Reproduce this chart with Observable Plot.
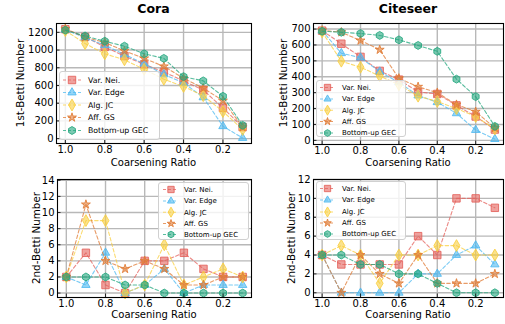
<!DOCTYPE html>
<html>
<head>
<meta charset="utf-8">
<script src="https://cdn.jsdelivr.net/npm/d3@7"></script>
<script src="https://cdn.jsdelivr.net/npm/@observablehq/plot@0.6"></script>
<style>
  html, body { margin: 0; padding: 0; background: #fff; }
  #root { position: relative; width: 505px; height: 324px; overflow: hidden; font-family: "DejaVu Sans", sans-serif; color: #000; }
  .lbl { position: absolute; white-space: nowrap; transform: translate(-50%, -50%); line-height: 1; }
  .ylbl { position: absolute; white-space: nowrap; transform: translate(-50%, -50%) rotate(-90deg); line-height: 1; }
  .title { font-weight: bold; font-size: 12.5px; }
  .legend { position: absolute; background: rgba(255,255,255,0.8); border: 1px solid #d0d0d0; border-radius: 3px; box-sizing: border-box; }
</style>
</head>
<body>
<div id="root"></div>
<script>
// ---------- data ----------
const ratios = [1.0, 0.9, 0.8, 0.7, 0.6, 0.5, 0.4, 0.3, 0.2, 0.1];
const methods = ["Var. Nei.", "Var. Edge", "Alg. JC", "Aff. GS", "Bottom-up GEC"];
const colors = ["#e4625c", "#4fb9f0", "#f9cf3f", "#e07b35", "#23a77e"];
const xTicks = [1.0, 0.8, 0.6, 0.4, 0.2];

// Cora, 1st-Betti number
const coraB1Nei  = [1235, 1148, 1036, 932, 839, 753, 652, 548, 347, 130];
const coraB1Edge = [1230, 1140, 1055, 950, 846, 725, 630, 466, 140, 7];
const coraB1JC   = [1220, 1073, 958, 890, 783, 671, 589, 485, 306, 104];
const coraB1GS   = [1240, 1145, 1085, 991, 906, 816, 682, 570, 429, 130];
const coraB1GEC  = [1225, 1159, 1100, 1044, 958, 906, 700, 652, 478, 150];
const coraB1Ticks = [0, 200, 400, 600, 800, 1000, 1200];

// Citeseer, 1st-Betti number
const citeB1Nei  = [690, 608, 525, 437, 382, 305, 292, 220, 150, 68];
const citeB1Edge = [690, 548, 520, 432, 365, 282, 240, 170, 65, 8];
const citeB1JC   = [682, 498, 460, 405, 350, 278, 245, 200, 150, 72];
const citeB1GS   = [692, 680, 628, 570, 390, 337, 300, 225, 180, 78];
const citeB1GEC  = [686, 680, 672, 660, 632, 597, 560, 385, 275, 88];
const citeB1Ticks = [0, 100, 200, 300, 400, 500, 600, 700];

// Cora, 2nd-Betti number
const coraB2Nei  = [2, 5, 1, 0, 4, 4, 5, 3, 2, 2];
const coraB2Edge = [2, 1, 5, 0, 1, 3, 0, 1, 1, 1];
const coraB2JC   = [2, 9, 9, 0, 1, 6, 1, 2, 3, 2];
const coraB2GS   = [2, 11, 4, 3, 4, 3, 1, 1, 2, 2];
const coraB2GEC  = [2, 2, 2, 1, 1, 0, 0, 0, 0, 0];
const coraB2Ticks = [0, 2, 4, 6, 8, 10, 12, 14];

// Citeseer, 2nd-Betti number
const citeB2Nei  = [4, 3, 3, 3, 3, 6, 4, 10, 10, 9];
const citeB2Edge = [4, 0, 0, 0, 0, 2, 2, 4, 5, 3];
const citeB2JC   = [4, 5, 4, 1, 4, 4, 5, 5, 4, 4];
const citeB2GS   = [4, 0, 4, 2, 1, 4, 1, 1, 1, 2];
const citeB2GEC  = [4, 4, 3, 3, 2, 2, 1, 0, 0, 0];
const citeB2Ticks = [0, 2, 4, 6, 8, 10, 12];

// ---------- symbols ----------
const hexagon = {
  draw(context, size) {
    const R = Math.sqrt(2 * size / (3 * Math.sqrt(3)));
    for (let k = 0; k < 6; k++) {
      const a = -Math.PI / 2 + k * Math.PI / 3;
      const px = R * Math.cos(a), py = R * Math.sin(a);
      if (k === 0) context.moveTo(px, py); else context.lineTo(px, py);
    }
    context.closePath();
  }
};
const symbols = ["square", "triangle", "diamond", "star", hexagon];
const d3Symbols = [d3.symbolSquare, d3.symbolTriangle, d3.symbolDiamond, d3.symbolStar, hexagon];
const radii = [4.2, 3.1, 3.6, 2.8, 3.6];

const root = document.getElementById("root");

function panel({left, top, width, height, mL, mR, mT, mB, series, yDomain, yTicks}) {
  const frameW = width - mL - mR;
  const frameH = height - mT - mB;
  const marks = [
    Plot.ruleX(xTicks, {x: d => d, stroke: "#b8b8b8", strokeWidth: 1.4}),
    Plot.ruleY(yTicks, {y: d => d, stroke: "#b8b8b8", strokeWidth: 1.4}),
  ];
  series.forEach((vals, i) => {
    const rows = vals.map((v, j) => ({x: ratios[j], y: v}));
    marks.push(Plot.line(rows, {x: "x", y: "y", stroke: colors[i], strokeWidth: 1.1,
      strokeOpacity: 0.75, strokeDasharray: "3.5,2.2"}));
    marks.push(Plot.dot(rows, {x: "x", y: "y", symbol: symbols[i], r: radii[i],
      fill: colors[i], fillOpacity: 0.6, stroke: colors[i], strokeOpacity: 0.85, strokeWidth: 1}));
  });
  marks.push(Plot.tickX(xTicks, {x: d => d, stroke: "#000", strokeWidth: 0.8, insetTop: frameH - 3.5}));
  marks.push(Plot.tickY(yTicks, {y: d => d, stroke: "#000", strokeWidth: 0.8, insetRight: frameW - 3.5}));
  marks.push(Plot.frame({stroke: "#000", strokeWidth: 1.1}));

  const chart = Plot.plot({
    width, height,
    marginLeft: mL, marginRight: mR, marginTop: mT, marginBottom: mB,
    style: {fontFamily: "DejaVu Sans", fontSize: "10px", background: "transparent", overflow: "visible", color: "#000"},
    x: {domain: [1.045, 0.055], ticks: xTicks, tickFormat: d3.format(".1f"), tickSize: 0, tickPadding: 2.5, label: null},
    y: {domain: yDomain, ticks: yTicks, tickFormat: d => String(d), tickSize: 0, tickPadding: 3, label: null},
    marks
  });
  chart.style.position = "absolute";
  chart.style.left = left + "px";
  chart.style.top = top + "px";
  root.appendChild(chart);
}

function text(cls, str, x, y, style = {}) {
  const d = document.createElement("div");
  d.className = cls;
  d.textContent = str;
  d.style.left = x + "px";
  d.style.top = y + "px";
  Object.assign(d.style, style);
  root.appendChild(d);
}

function legend({left, top, w, h, fontSize, rowY, lineX0, lineX1, markX, textX, scale}) {
  const div = document.createElement("div");
  div.className = "legend";
  Object.assign(div.style, {left: left + "px", top: top + "px", width: w + "px", height: h + "px"});
  const svg = d3.create("svg").attr("width", w).attr("height", h)
    .style("position", "absolute").style("left", "-1px").style("top", "-1px")
    .style("font-family", "DejaVu Sans").style("font-size", fontSize + "px");
  methods.forEach((m, i) => {
    const y = rowY[i];
    svg.append("line").attr("x1", lineX0).attr("x2", lineX1).attr("y1", y).attr("y2", y)
      .attr("stroke", colors[i]).attr("stroke-width", 1.1).attr("stroke-opacity", 0.75)
      .attr("stroke-dasharray", "3,2");
    const r = radii[i] * scale;
    svg.append("path").attr("transform", `translate(${markX},${y})`)
      .attr("d", d3.symbol(d3Symbols[i], Math.PI * r * r)())
      .attr("fill", colors[i]).attr("fill-opacity", 0.6)
      .attr("stroke", colors[i]).attr("stroke-opacity", 0.85);
    svg.append("text").attr("x", textX).attr("y", y).attr("dy", "0.35em").text(m);
  });
  div.appendChild(svg.node());
  root.appendChild(div);
}

// ---------- panels ----------
panel({left: 0, top: 0, width: 255, height: 170, mL: 56, mR: 4, mT: 23, mB: 27,
  series: [coraB1Nei, coraB1Edge, coraB1JC, coraB1GS, coraB1GEC], yDomain: [-55, 1300], yTicks: coraB1Ticks});
panel({left: 255, top: 0, width: 250, height: 170, mL: 58, mR: 2, mT: 23, mB: 26,
  series: [citeB1Nei, citeB1Edge, citeB1JC, citeB1GS, citeB1GEC], yDomain: [-26, 735], yTicks: citeB1Ticks});
panel({left: 0, top: 160, width: 255, height: 164, mL: 57, mR: 4, mT: 19, mB: 27,
  series: [coraB2Nei, coraB2Edge, coraB2JC, coraB2GS, coraB2GEC], yDomain: [-0.55, 14.1], yTicks: coraB2Ticks});
panel({left: 255, top: 160, width: 250, height: 164, mL: 58, mR: 2, mT: 19, mB: 27,
  series: [citeB2Nei, citeB2Edge, citeB2JC, citeB2GS, citeB2GEC], yDomain: [-0.5, 12], yTicks: citeB2Ticks});

// ---------- titles & axis labels ----------
text("lbl title", "Cora", 153.5, 9);
text("lbl title", "Citeseer", 408, 9);
text("lbl", "Coarsening Ratio", 153.5, 163, {fontSize: "10px"});
text("lbl", "Coarsening Ratio", 408, 163, {fontSize: "10px"});
text("lbl", "Coarsening Ratio", 154, 315, {fontSize: "10px"});
text("lbl", "Coarsening Ratio", 408, 315, {fontSize: "10px"});
text("ylbl", "1st-Betti Number", 20, 83, {fontSize: "10.3px"});
text("ylbl", "1st-Betti Number", 283, 83, {fontSize: "10.3px"});
text("ylbl", "2nd-Betti Number", 36, 238, {fontSize: "10.3px"});
text("ylbl", "2nd-Betti Number", 290.5, 238, {fontSize: "10.3px"});

// ---------- legends ----------
legend({left: 59, top: 71, w: 101, h: 69, fontSize: 7.8, rowY: [9, 21.5, 34, 46.5, 59.5],
  lineX0: 4, lineX1: 23, markX: 13, textX: 29, scale: 1});
legend({left: 316, top: 80, w: 90, h: 57, fontSize: 7, rowY: [7.5, 19, 30.2, 41.5, 53],
  lineX0: 4, lineX1: 19, markX: 11.5, textX: 26, scale: 0.85});
legend({left: 158, top: 182, w: 91, h: 58, fontSize: 7, rowY: [7.5, 19, 30.2, 41.5, 52.5],
  lineX0: 5, lineX1: 20, markX: 13, textX: 26, scale: 0.85});
legend({left: 316, top: 181, w: 90, h: 59, fontSize: 7, rowY: [7.5, 19, 31, 42, 53],
  lineX0: 4, lineX1: 19, markX: 11.5, textX: 26, scale: 0.85});
</script>
</body>
</html>
